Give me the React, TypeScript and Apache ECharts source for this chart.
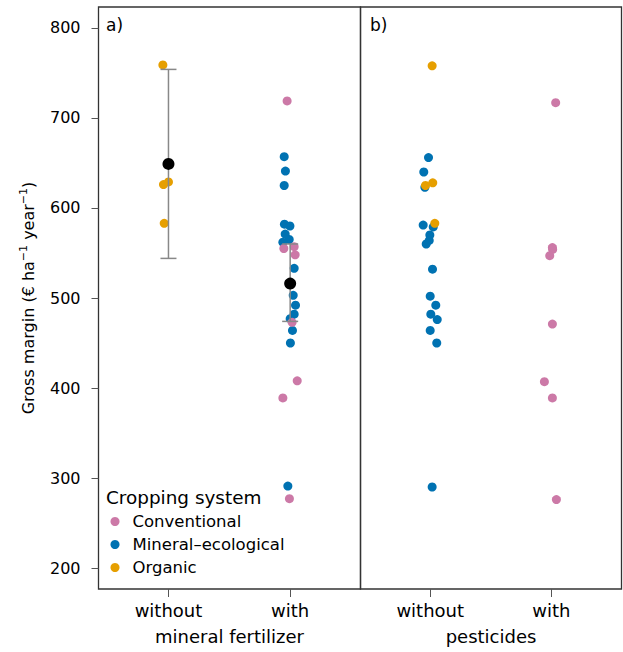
import React, { useEffect, useRef } from "react";
import * as echarts from "echarts";

const xCategories = ["without", "with"];
const panelAxisNames = ["mineral fertilizer", "pesticides"];
const panelLabels = ["a)", "b)"];
const yTicks = [200, 300, 400, 500, 600, 700, 800];
const systems = ["Conventional", "Mineral–ecological", "Organic"];
const systemColors = ["#CC79A7", "#0072B2", "#E69F00"];

// Panel a: mineral fertilizer (conventional & mineral-ecological = "with", organic = "without")
const aConvValues = [719, 557, 555, 548, 473, 408, 389, 277];
const aConvJitter = [-0.025, 0.033, -0.052, 0.041, 0.016, 0.058, -0.06, -0.006];
const aMinValues = [657, 641, 625, 582, 580, 571, 565, 562, 533, 503, 492, 482, 477, 464, 450, 291];
const aMinJitter = [-0.049, -0.039, -0.049, -0.047, -0.002, -0.041, -0.008, -0.06, 0.033, 0.025, 0.044, 0.033, 0.0, 0.019, 0.002, -0.019];
const aOrgValues = [759, 629, 626, 583];
const aOrgJitter = [-0.046, 0.0, -0.041, -0.035];
const aMeans = [649, 516];
const aLower = [544, 474];
const aUpper = [754, 560];

// Panel b: pesticides (mineral-ecological & organic = "without", conventional = "with")
const bConvValues = [717, 556, 554, 547, 471, 407, 389, 276];
const bConvJitter = [0.035, 0.008, 0.01, -0.014, 0.008, -0.058, 0.008, 0.041];
const bMinValues = [656, 640, 623, 581, 579, 570, 564, 560, 532, 502, 492, 482, 476, 464, 450, 290];
const bMinJitter = [-0.014, -0.053, -0.044, -0.058, 0.025, -0.003, -0.008, -0.033, 0.019, 0.0, 0.046, 0.005, 0.058, 0.0, 0.054, 0.016];
const bOrgValues = [758, 628, 625, 583];
const bOrgJitter = [0.016, 0.021, -0.039, 0.038];

const FONT = "DejaVu Sans";

const pts = (vals: number[], jit: number[], center: number) =>
  vals.map((v, i) => [center + jit[i], v]);

export default function App() {
  const ref = useRef<HTMLDivElement>(null);
  useEffect(() => {
    if (!ref.current) return;
    const chart = echarts.init(ref.current, undefined, { renderer: "svg" });

    const xAxisBase = (idx: number) => ({
      type: "value" as const,
      gridIndex: idx,
      min: 0.425,
      max: 2.578,
      axisLine: { show: false },
      splitLine: { show: false },
      axisTick: {
        show: true,
        customValues: [1, 2],
        length: 8,
        lineStyle: { color: "#555", width: 1 },
      },
      axisLabel: {
        customValues: [1, 2],
        formatter: (v: number) => xCategories[Math.round(v) - 1] ?? "",
        fontSize: 18,
        color: "#000",
        fontFamily: FONT,
        margin: 12,
      },
      name: panelAxisNames[idx],
      nameLocation: "middle" as const,
      nameGap: 38,
      nameTextStyle: { fontSize: 18, color: "#000", fontFamily: FONT },
    });

    const yAxisBase = (idx: number) => ({
      type: "value" as const,
      gridIndex: idx,
      min: 176.667,
      max: 823.333,
      axisLine: { show: false },
      splitLine: { show: false },
      axisTick: {
        show: idx === 0,
        customValues: yTicks,
        length: 7,
        lineStyle: { color: "#555", width: 1 },
      },
      axisLabel: {
        show: idx === 0,
        customValues: yTicks,
        fontSize: 16,
        color: "#000",
        fontFamily: FONT,
        margin: 18,
      },
    });

    const scatter = (
      name: string,
      color: string,
      idx: number,
      data: number[][]
    ) => ({
      type: "scatter" as const,
      name,
      xAxisIndex: idx,
      yAxisIndex: idx,
      data,
      symbolSize: 9,
      itemStyle: { color, opacity: 1 },
      z: 2,
      silent: true,
    });

    const errorBar = {
      type: "custom" as const,
      xAxisIndex: 0,
      yAxisIndex: 0,
      data: aMeans.map((_, i) => [i + 1, aLower[i], aUpper[i]]),
      z: 3,
      silent: true,
      renderItem: (_params: any, api: any) => {
        const lo = api.coord([api.value(0), api.value(1)]);
        const hi = api.coord([api.value(0), api.value(2)]);
        const w = 8;
        const style = { stroke: "#888", lineWidth: 1.5 };
        return {
          type: "group",
          children: [
            { type: "line", shape: { x1: lo[0], y1: lo[1], x2: hi[0], y2: hi[1] }, style },
            { type: "line", shape: { x1: lo[0] - w, y1: lo[1], x2: lo[0] + w, y2: lo[1] }, style },
            { type: "line", shape: { x1: hi[0] - w, y1: hi[1], x2: hi[0] + w, y2: hi[1] }, style },
          ],
        };
      },
    };

    const option: any = {
      animation: false,
      backgroundColor: "#fff",
      textStyle: { fontFamily: FONT },
      grid: [
        { left: 98.5, top: 7, width: 262, height: 582, show: true, borderColor: "#333", borderWidth: 1.3, backgroundColor: "transparent" },
        { left: 360.5, top: 7, width: 261, height: 582, show: true, borderColor: "#333", borderWidth: 1.3, backgroundColor: "transparent" },
      ],
      xAxis: [xAxisBase(0), xAxisBase(1)],
      yAxis: [yAxisBase(0), yAxisBase(1)],
      legend: {
        data: systems,
        orient: "vertical",
        left: 110.5,
        top: 513,
        padding: 0,
        icon: "circle",
        itemWidth: 9,
        itemHeight: 9,
        itemGap: 6,
        selectedMode: false,
        textStyle: {
          fontSize: 16.5,
          lineHeight: 16,
          color: "#000",
          fontFamily: FONT,
          padding: [0, 0, 0, 8],
        },
      },
      graphic: [
        { type: "text", left: 106, top: 16, style: { text: panelLabels[0], fontSize: 17, fill: "#000", fontFamily: FONT } },
        { type: "text", left: 370, top: 16, style: { text: panelLabels[1], fontSize: 17, fill: "#000", fontFamily: FONT } },
        { type: "text", left: 106, top: 488, style: { text: "Cropping system", fontSize: 18.4, fill: "#000", fontFamily: FONT } },
        {
          type: "text",
          x: 28,
          y: 298,
          rotation: Math.PI / 2,
          style: {
            text: "Gross margin (€ ha{sup|−1} year{sup|−1})",
            fontSize: 16,
            lineHeight: 20,
            fill: "#000",
            fontFamily: FONT,
            align: "center",
            verticalAlign: "middle",
            rich: {
              sup: { fontSize: 11, lineHeight: 11, verticalAlign: "top", fill: "#000", fontFamily: FONT },
            },
          },
        },
      ],
      series: [
        scatter(systems[1], systemColors[1], 0, pts(aMinValues, aMinJitter, 2)),
        scatter(systems[0], systemColors[0], 0, pts(aConvValues, aConvJitter, 2)),
        scatter(systems[2], systemColors[2], 0, pts(aOrgValues, aOrgJitter, 1)),
        scatter(systems[1], systemColors[1], 1, pts(bMinValues, bMinJitter, 1)),
        scatter(systems[0], systemColors[0], 1, pts(bConvValues, bConvJitter, 2)),
        scatter(systems[2], systemColors[2], 1, pts(bOrgValues, bOrgJitter, 1)),
        errorBar,
        {
          type: "scatter",
          name: "mean",
          xAxisIndex: 0,
          yAxisIndex: 0,
          data: aMeans.map((m, i) => [i + 1, m]),
          symbolSize: 12,
          itemStyle: { color: "#000", opacity: 1 },
          z: 4,
          silent: true,
        },
      ],
    };
    chart.setOption(option);
    return () => chart.dispose();
  }, []);
  return (
    <div
      ref={ref}
      style={{ position: "absolute", left: 0, top: 0, width: 623, height: 652 }}
    />
  );
}
